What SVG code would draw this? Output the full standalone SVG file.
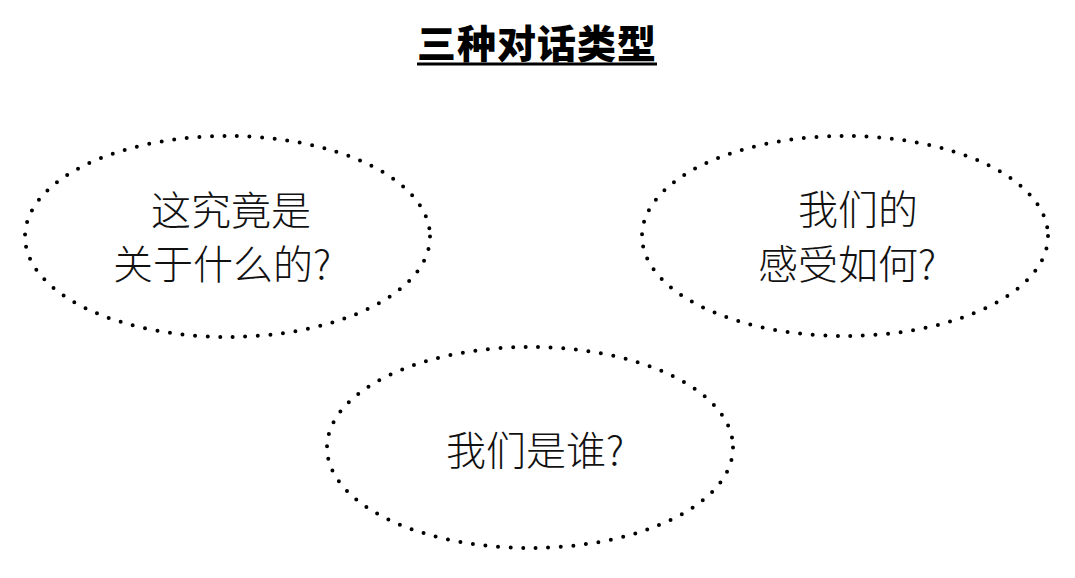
<svg xmlns="http://www.w3.org/2000/svg" width="1075" height="578" viewBox="0 0 1075 578">
<style>
.bg{fill:#ffffff}
.oval{fill:none;stroke:#000;stroke-width:4;stroke-dasharray:0 12.6;stroke-linecap:round}
.lbl{font-family:"Noto Sans CJK SC","Noto Sans",sans-serif;font-size:40px;font-weight:300;fill:#111}
.title{font-family:"Noto Sans CJK SC","Noto Sans",sans-serif;font-size:39px;font-weight:900;letter-spacing:1px;fill:#000}
</style>
<rect class="bg" x="0" y="0" width="1075" height="578"/>
<g id="title">
<text class="title" x="417" y="58">三种对话类型</text>
<line x1="417" y1="64" x2="657" y2="64" stroke="#000" stroke-width="3"/>
</g>
<g id="connectors"></g>
<g id="node-about">
<ellipse class="oval" cx="227.5" cy="236.5" rx="202.5" ry="100.5"/>
<text class="lbl" x="151" y="225">这究竟是</text>
<text class="lbl" x="113" y="279">关于什么的?</text>
</g>
<g id="node-feel">
<ellipse class="oval" cx="845" cy="236" rx="203" ry="100"/>
<text class="lbl" x="798" y="224">我们的</text>
<text class="lbl" x="758" y="279">感受如何?</text>
</g>
<g id="node-who">
<ellipse class="oval" cx="530" cy="447.5" rx="203" ry="100.5"/>
<text class="lbl" x="446" y="465">我们是谁?</text>
</g>
</svg>
